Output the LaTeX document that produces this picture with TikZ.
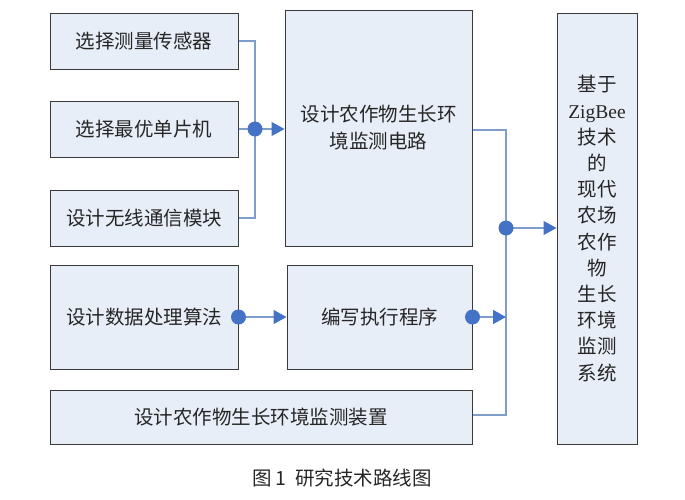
\documentclass[tikz,border=0pt]{standalone}
\usepackage{fontspec}
\setmainfont{Liberation Serif}
\newfontfamily\cjk{Noto Sans CJK SC}
\usetikzlibrary{arrows.meta}
\definecolor{boxfill}{HTML}{E8EEF8}
\definecolor{boxline}{HTML}{3A3A3A}
\definecolor{conn}{HTML}{7F9DCB}
\definecolor{dotc}{HTML}{4472C4}
\begin{document}
\begin{tikzpicture}[x=1pt,y=-1pt,
  box/.style={draw=boxline,line width=1pt,fill=boxfill,inner sep=0pt,font=\cjk\fontsize{19.5}{27}\selectfont,text=black!85},
  wire/.style={draw=conn,line width=1.2pt},
  arr/.style={wire,-{Triangle[length=13pt,width=14pt,fill=dotc,color=dotc]}},
  jdot/.style={circle,fill=dotc,inner sep=0pt,minimum size=15pt}]
\useasboundingbox (0,0) rectangle (685,499);
\node[box,minimum width=188pt,minimum height=56pt] (b1) at (144,41) {选择测量传感器};
\node[box,minimum width=188pt,minimum height=56pt] (b2) at (144,129) {选择最优单片机};
\node[box,minimum width=188pt,minimum height=56pt] (b3) at (144,218) {设计无线通信模块};
\node[box,minimum width=187pt,minimum height=236pt,text width=170pt,align=center] (b4) at (378.5,128) {设计农作物生长环\\境监测电路};
\node[box,minimum width=188pt,minimum height=104pt] (b5) at (144,317) {设计数据处理算法};
\node[box,minimum width=185pt,minimum height=104pt] (b6) at (379.5,317) {编写执行程序};
\node[box,minimum width=422pt,minimum height=54pt] (b7) at (261,417) {设计农作物生长环境监测装置};
\node[box,minimum width=80pt,minimum height=431pt,align=center,font=\cjk\fontsize{19.5}{26.2}\selectfont] (b8) at (597,228.5) {基于\\{\rmfamily ZigBee}\\技术\\的\\现代\\农场\\农作\\物\\生长\\环境\\监测\\系统};
% left junction
\coordinate (j1) at (255,129);
\draw[wire] (b1.east) -- (255,41) -- (255,218) -- (b3.east);
\draw[wire] (b2.east) -- (j1);
\draw[arr] (j1) -- (b4.west |- j1);
\node[jdot] (d1) at (j1) {};
% right junction
\coordinate (j2) at (506,228);
\coordinate (j3) at (506,317);
\draw[wire] (b4.east |- 0,130) -- (506,130) -- (506,415) -- (b7.east |- 0,415);
\draw[arr] (j2) -- (b8.west |- j2);
\node[jdot] (d2) at (j2) {};
\draw[arr] (b6.east) -- (j3);
\node[jdot] (d3) at (b6.east) {};
\draw[arr] (b5.east) -- (b6.west);
\node[jdot] (d4) at (b5.east) {};
\node[font=\cjk\fontsize{19.5}{22}\selectfont,text=black!85] (cap) at (342,478) {图 1\ \ 研究技术路线图};
\end{tikzpicture}
\end{document}
